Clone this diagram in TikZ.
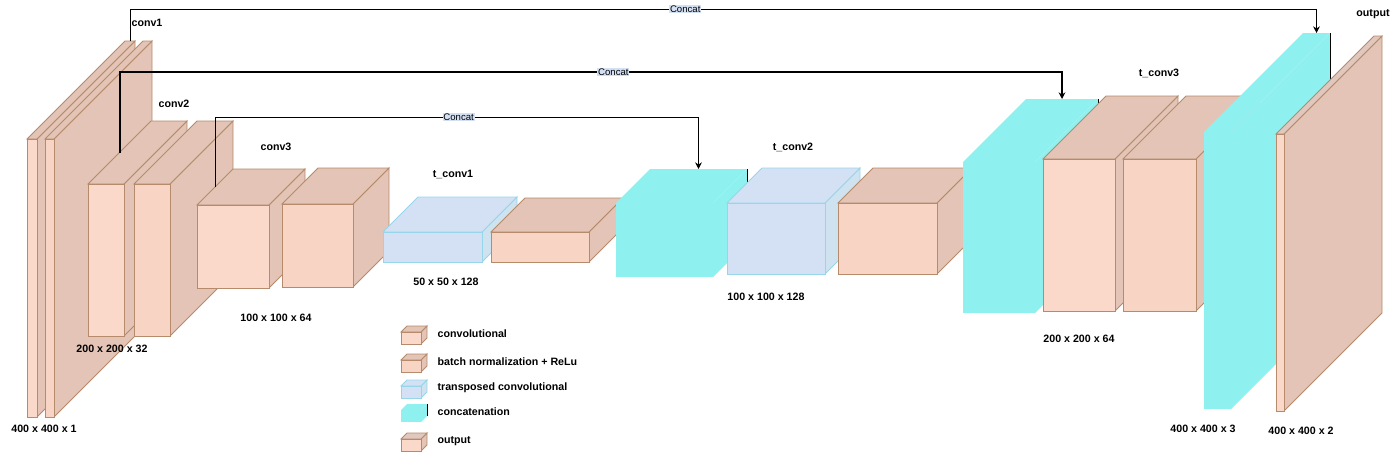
\documentclass[tikz,border=0pt]{standalone}
\usepackage{fontspec}
\setmainfont{Liberation Sans}
\usetikzlibrary{arrows.meta}
\usepackage{xcolor}

\definecolor{peachF}{HTML}{FAD9CA}
\definecolor{peachD}{HTML}{F7D4C4}
\definecolor{peachS}{HTML}{E3C4B6}
\definecolor{edgeB}{HTML}{B58B6B}
\definecolor{blueF}{HTML}{D4E1F5}
\definecolor{blueS}{HTML}{CFE2F0}
\definecolor{blueE}{HTML}{96D6E8}
\definecolor{cyanC}{HTML}{8EF1F0}

% #1 name, #2 kind, #3/#4 front top-left, #5 width, #6 height, #7 depth
\newcommand{\layer}[7]{%
    \begin{scope}[#2]
        \path[faceS] (#3+#5,#4) -- ++(#7,-#7) -- ++(0,#6) -- ++(-#7,#7) -- cycle;
        \path[faceT] (#3,#4) -- ++(#7,-#7) -- ++(#5,0) -- ++(-#7,#7) -- cycle;
        \path[faceF] (#3,#4) rectangle ++(#5,#6);
        \path[faceE] (#3+#5+#7,#4-#7) -- ++(0,#6);
    \end{scope}
    \coordinate (#1-bt) at (#3+#5/2+#7,#4-#7);
    \coordinate (#1-lt) at (#3+#7/2,#4-#7/2);
}

\begin{document}
\begin{tikzpicture}[%
    x=0.75pt, y=-0.75pt,
    faceF/.style={}, faceT/.style={}, faceS/.style={}, faceE/.style={draw=none},
    conv/.style={faceF/.style={fill=peachF, draw=edgeB, line width=0.7pt},
        faceT/.style={fill=peachS, draw=edgeB, line width=0.7pt},
        faceS/.style={fill=peachS, draw=edgeB, line width=0.7pt}},
    bn/.style={conv, faceF/.style={fill=peachD, draw=edgeB, line width=0.7pt}},
    outp/.style={conv, faceT/.style={fill=peachS!85!blueF, draw=edgeB, line width=0.7pt}},
    tconv/.style={faceF/.style={fill=blueF, draw=blueE, line width=0.7pt},
        faceT/.style={fill=blueF, draw=blueE, line width=0.7pt},
        faceS/.style={fill=blueS, draw=blueE, line width=0.7pt}},
    concat/.style={faceF/.style={fill=cyanC}, faceT/.style={fill=cyanC},
        faceS/.style={fill=cyanC}, faceE/.style={draw=black, line width=0.6pt}},
    lname/.style={font=\fontsize{8}{9.6}\selectfont\bfseries, inner sep=1pt},
    skip/.style={draw, -{Stealth[length=5pt, width=5pt]}, line width=0.75pt},
    cat/.style={fill=blueF, inner sep=0.5pt, font=\fontsize{7.2}{8}\selectfont}
]
\useasboundingbox (0,0) rectangle (1400,451);

% encoder
\layer{in1}{conv}{27}{139}{10}{278}{98}
\layer{in2}{bn}{45}{139}{9}{278}{98}
\layer{c2a}{conv}{88}{184}{36}{152}{63}
\layer{c2b}{bn}{134}{184}{36}{152}{63}
\layer{c3a}{conv}{197}{205}{72}{83}{36}
\layer{c3b}{bn}{282}{204}{71}{83}{36}
% decoder
\layer{t1a}{tconv}{383}{232}{99}{30}{35}
\layer{t1b}{bn}{491}{232}{98}{30}{34}
\layer{cat1}{concat}{616}{203}{97}{74}{34}
\layer{t2a}{tconv}{727}{203}{98}{71}{35}
\layer{t2b}{bn}{838}{203}{99}{71}{35}
\layer{cat2}{concat}{963}{162}{72}{151}{63}
\layer{t3a}{conv}{1043}{159}{72}{152}{63}
\layer{t3b}{bn}{1123}{159}{73}{152}{63}
\layer{cat3}{concat}{1204}{132}{27}{277}{99}
\layer{out}{outp}{1276}{134}{8}{277}{98}

\path[skip]
    (in1-bt) -- ++(0,-32) -| node[cat, pos=0.234] (lbl-a) {Concat} (cat3-bt);
\path[skip, line width=1.5pt]
    (c2a-lt) -- ++(0,-80.5) -| node[cat, pos=0.262] (lbl-b) {Concat} (cat2-bt);
\path[skip]
    (c3a-lt) -- ++(0,-70) -| node[cat, pos=0.252] (lbl-c) {Concat} (cat1-bt);

\node[lname, anchor=west] (n-conv1) at (130,23) {conv1};
\node[lname] (n-conv2) at (174,104) {conv2};
\node[lname] (n-conv3) at (276,147) {conv3};
\node[lname] (n-tconv1) at (453,174) {t\_conv1};
\node[lname] (n-tconv2) at (793,147) {t\_conv2};
\node[lname] (n-tconv3) at (1159,73) {t\_conv3};
\node[lname] (n-out) at (1373,14) {output};

\node[lname] (d-in) at (44,429) {400 x 400 x 1};
\node[lname] (d-c2) at (112,349) {200 x 200 x 32};
\node[lname] (d-c3) at (276,318) {100 x 100 x 64};
\node[lname] (d-t1) at (446,282) {50 x 50 x 128};
\node[lname] (d-t2) at (766,297) {100 x 100 x 128};
\node[lname] (d-t3) at (1079,339) {200 x 200 x 64};
\node[lname] (d-cat) at (1203,429) {400 x 400 x 3};
\node[lname] (d-out) at (1301,431) {400 x 400 x 2};

% legend
\foreach \kind/\yy/\txt in {conv/332/convolutional, bn/360/batch normalization + ReLu,
        tconv/386/transposed convolutional, concat/410/concatenation, outp/439/output} {
    \layer{key-\kind}{\kind}{401}{\yy}{20}{12}{6}
    \node[lname, anchor=west] (txt-\kind) at (436,\yy+2) {\txt};
}
\end{tikzpicture}
\end{document}
